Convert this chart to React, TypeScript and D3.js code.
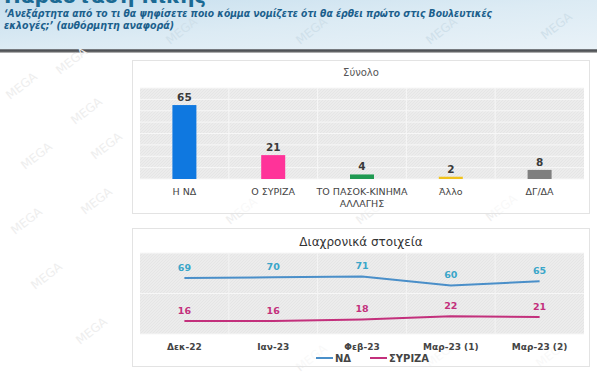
import React from "react";
import * as d3 from "d3";

const categories = ["Η ΝΔ", "Ο ΣΥΡΙΖΑ", "ΤΟ ΠΑΣΟΚ-ΚΙΝΗΜΑ ΑΛΛΑΓΗΣ", "Άλλο", "ΔΓ/ΔΑ"];
const totals = [65, 21, 4, 2, 8];
const barColors = ["#0f78e0", "#ff3399", "#1f9a52", "#f0c21c", "#7f7f7f"];

const periods = ["Δεκ-22", "Ιαν-23", "Φεβ-23", "Μαρ-23 (1)", "Μαρ-23 (2)"];
const ndSeries = [69, 70, 71, 60, 65];
const syrizaSeries = [16, 16, 18, 22, 21];
const seriesNames = ["ΝΔ", "ΣΥΡΙΖΑ"];

const W = 597;
const H = 375;
const font = "'DejaVu Sans', Verdana, sans-serif";

export default function App() {
  const x = d3.scaleBand<string>().domain(categories).range([140, 584]);
  const yBar = d3.scaleLinear().domain([0, 80]).range([179, 88]);
  const barTicks = d3.range(0, 81, 10);
  const xl = d3.scaleBand<string>().domain(periods).range([140, 584]);
  const yl = d3.scaleLinear().domain([0, 100]).range([334, 253]);
  const line = d3
    .line<number>()
    .x((_, i) => (xl(periods[i]) as number) + xl.bandwidth() / 2)
    .y((d) => yl(d));
  const barW = 24;

  const watermarks: [number, number][] = [
    [10, 100], [60, 75], [75, 125], [25, 170], [95, 160], [15, 235], [85, 215],
    [35, 290], [80, 345], [170, 45], [300, 45], [430, 45], [545, 40],
    [230, 225], [360, 225], [490, 222], [300, 372], [430, 368], [540, 368],
  ];

  return (
    <svg
      width={W}
      height={H}
      style={{ position: "fixed", left: 0, top: 0, background: "#fff" }}
      fontFamily={font}
    >
      <defs>
        <linearGradient id="hdr" x1="0" y1="0" x2="1" y2="1">
          <stop offset="0" stopColor="#c7dfee" />
          <stop offset="0.5" stopColor="#dcebf4" />
          <stop offset="1" stopColor="#e9f2f8" />
        </linearGradient>
        <linearGradient id="shadow" x1="0" y1="0" x2="0" y2="1">
          <stop offset="0" stopColor="#8a8f94" />
          <stop offset="0.5" stopColor="#3d4043" />
          <stop offset="1" stopColor="#d0d0d0" />
        </linearGradient>
        <pattern id="hatch" width="3" height="3" patternUnits="userSpaceOnUse">
          <rect width="3" height="3" fill="#ececec" />
          <path d="M0,3 L3,0" stroke="#e3e3e3" strokeWidth="0.8" />
        </pattern>
      </defs>

      {/* header */}
      <rect x={0} y={0} width={W} height={49} fill="url(#hdr)" />
      <rect x={0} y={49} width={W} height={4} fill="url(#shadow)" />

      {/* watermarks */}
      {watermarks.map(([wx, wy], i) => (
        <text key={i} x={wx} y={wy} fontSize={12} fill={wy < 49 ? "#cfe0ea" : "#eeeeee"}
          transform={`rotate(-38 ${wx} ${wy})`}>
          MEGA
        </text>
      ))}

      <text x={4} y={3} fontSize={20} fontWeight="bold" fill="#1b6a94">
        Παράσταση Νίκης
      </text>
      <text x={4} y={17} fontSize={11} fontWeight="bold" fontStyle="italic" fill="#1b5f8c"
        textLength={488} lengthAdjust="spacingAndGlyphs">
        ‘Ανεξάρτητα από το τι θα ψηφίσετε ποιο κόμμα νομίζετε ότι θα έρθει πρώτο στις Βουλευτικές
      </text>
      <text x={4} y={29} fontSize={11} fontWeight="bold" fontStyle="italic" fill="#1b5f8c"
        textLength={170} lengthAdjust="spacingAndGlyphs">
        εκλογές;’ (αυθόρμητη αναφορά)
      </text>

      {/* panel 1 */}
      <rect x={132.5} y={60.5} width={457} height={153} fill="#fff" fillOpacity={0.6} stroke="#e3e3e3" />
      <text x={361} y={76} fontSize={10} fill="#555" textAnchor="middle">Σύνολο</text>
      <rect x={140} y={88} width={444} height={91} fill="url(#hatch)" />
      {barTicks.map((t) => (
        <line key={t} x1={140} x2={584} y1={yBar(t)} y2={yBar(t)} stroke="#f7f7f7" strokeWidth={1} />
      ))}
      {categories.slice(1).map((c) => (
        <line key={c} x1={x(c)} x2={x(c)} y1={88} y2={179} stroke="#f7f7f7" />
      ))}
      {categories.map((c, i) => {
        const cx = (x(c) as number) + x.bandwidth() / 2;
        const lines = c === "ΤΟ ΠΑΣΟΚ-ΚΙΝΗΜΑ ΑΛΛΑΓΗΣ" ? ["ΤΟ ΠΑΣΟΚ-ΚΙΝΗΜΑ", "ΑΛΛΑΓΗΣ"] : [c];
        return (
          <g key={c}>
            <rect x={cx - barW / 2} y={yBar(totals[i])} width={barW} height={179 - yBar(totals[i])} fill={barColors[i]} />
            <text x={cx} y={yBar(totals[i]) - 4} fontSize={10.5} fontWeight="bold" fill="#3a3a3a" textAnchor="middle">
              {totals[i]}
            </text>
            {lines.map((l, j) => (
              <text key={j} x={cx} y={195 + j * 11.5} fontSize={9.5} fill="#444" textAnchor="middle">
                {l}
              </text>
            ))}
          </g>
        );
      })}

      {/* panel 2 */}
      <rect x={132.5} y={228.5} width={457} height={138} fill="#fff" fillOpacity={0.6} stroke="#e3e3e3" />
      <text x={361} y={246} fontSize={12} fill="#333" textAnchor="middle">Διαχρονικά στοιχεία</text>
      <rect x={140} y={253} width={444} height={81} fill="url(#hatch)" />
      {[0, 50, 100].map((t) => (
        <line key={t} x1={140} x2={584} y1={yl(t)} y2={yl(t)} stroke="#f7f7f7" />
      ))}
      {periods.slice(1).map((p) => (
        <line key={p} x1={xl(p)} x2={xl(p)} y1={253} y2={334} stroke="#f4f4f4" />
      ))}
      <path d={line(ndSeries) as string} fill="none" stroke="#4a8fc9" strokeWidth={2} />
      <path d={line(syrizaSeries) as string} fill="none" stroke="#c3307c" strokeWidth={2} />
      {periods.map((p, i) => {
        const cx = (xl(p) as number) + xl.bandwidth() / 2;
        return (
          <g key={p}>
            <text x={cx} y={yl(ndSeries[i]) - 7} fontSize={9.5} fontWeight="bold" fill="#3aa6c9" textAnchor="middle">
              {ndSeries[i]}
            </text>
            <text x={cx} y={yl(syrizaSeries[i]) - 7} fontSize={9.5} fontWeight="bold" fill="#c3307c" textAnchor="middle">
              {syrizaSeries[i]}
            </text>
            <text x={cx} y={350} fontSize={9} fontWeight="bold" fill="#444" textAnchor="middle">
              {p}
            </text>
          </g>
        );
      })}
      {/* legend */}
      <line x1={316} x2={333} y1={358} y2={358} stroke="#4a8fc9" strokeWidth={2} />
      <text x={335} y={362} fontSize={10} fontWeight="bold" fill="#444">{seriesNames[0]}</text>
      <line x1={370} x2={387} y1={358} y2={358} stroke="#c3307c" strokeWidth={2} />
      <text x={389} y={362} fontSize={10} fontWeight="bold" fill="#444">{seriesNames[1]}</text>
    </svg>
  );
}
